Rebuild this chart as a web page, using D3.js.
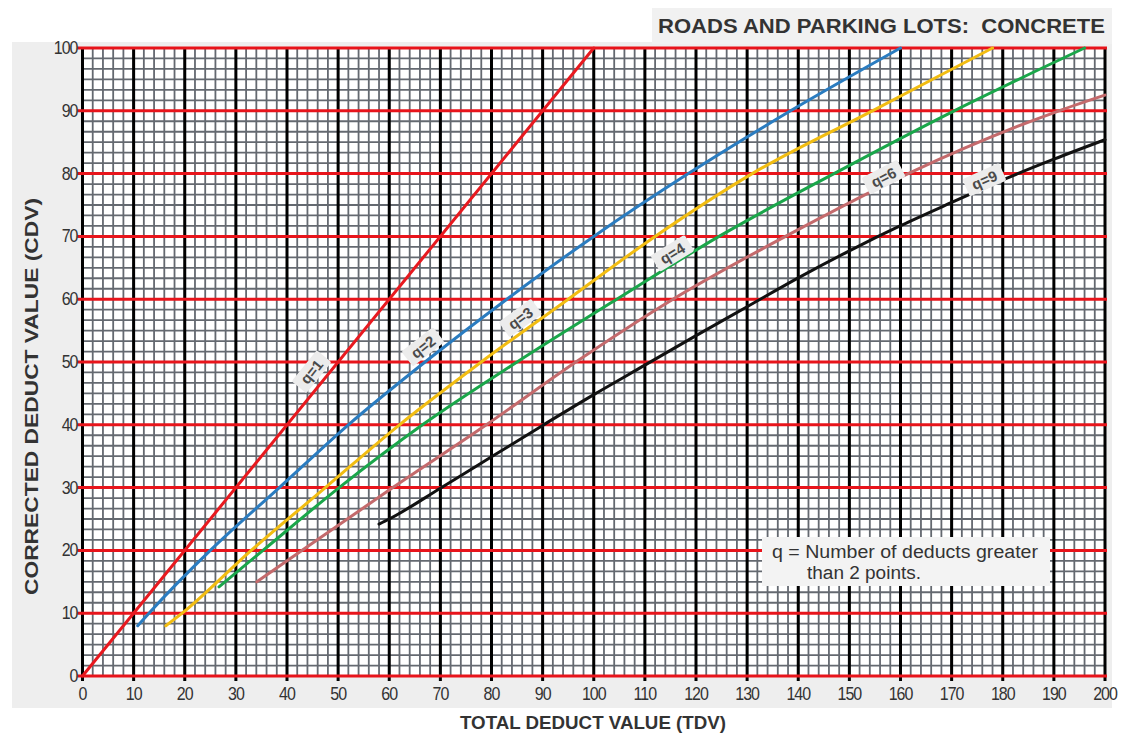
<!DOCTYPE html>
<html>
<head>
<meta charset="utf-8">
<script src="https://cdn.jsdelivr.net/npm/d3@7"></script>
<style>
  body { margin: 0; background: #ffffff; }
  svg { display: block; font-family: "Liberation Sans", Arial, sans-serif; }
</style>
</head>
<body>
<svg id="chart" width="1124" height="742"></svg>
<script>
// Axis ticks
const tdvTicks = d3.range(0, 201, 10);
const cdvTicks = d3.range(0, 101, 10);

// Corrected deduct value curves, [TDV, CDV] pairs, one per q
const qNames = ["q=1", "q=2", "q=3", "q=4", "q=6", "q=9"];
const q1 = [[0, 0], [100, 100]];
const q2 = [[10.8, 8], [13, 10], [25, 20], [38.5, 30], [52, 40], [67, 50], [83, 60], [100, 70],
            [118.5, 80], [138.5, 90], [160, 100]];
const q3 = [[16.3, 8], [19.5, 10], [33, 20], [47.5, 30], [62, 40], [78, 50], [95, 60], [112, 70],
            [131, 80], [154.5, 90], [178, 100]];
const q4 = [[26.7, 14.2], [35.3, 20], [50.2, 30], [66.5, 40], [85, 50], [104.5, 60], [124.5, 70],
            [147, 80], [170.5, 90], [196, 100]];
const q6 = [[34.1, 15], [42.9, 20], [60.7, 30], [79, 40], [96.5, 50], [115.5, 60], [137.5, 70],
            [161.5, 80], [191, 90], [200, 92.5]];
const q9 = [[58, 24.2], [60, 25], [70, 29.9], [80, 34.9], [90, 39.9], [100, 44.8], [110, 49.5],
            [120, 54.2], [130, 58.8], [140, 63.4], [150, 67.7], [160, 71.7], [170, 75.4],
            [180, 79], [190, 82.3], [200, 85.4]];
const curves = [q1, q2, q3, q4, q6, q9];
const curveColors = ["#e8191f", "#2a7cc0", "#f2bd12", "#1aa64a", "#c46a6c", "#111111"];
// where each curve carries its name: TDV along the curve, and gap above it (px)
const labelTdv = [47, 68.2, 87.1, 116.4, 157.4, 177];
const labelGap = [14.5, 13.3, 12.7, 10, 8, 7.5];

const noteLines = ["q = Number of deducts greater", "than 2 points."];

const x = d3.scaleLinear().domain([0, 200]).range([82.5, 1105]);
const y = d3.scaleLinear().domain([0, 100]).range([676, 48]);

const svg = d3.select("#chart");

// paper backdrop
svg.append("rect").attr("x", 12).attr("y", 42).attr("width", 1100).attr("height", 666)
  .attr("fill", "#eeeeee");
svg.append("rect").attr("x", 652).attr("y", 8).attr("width", 460).attr("height", 36)
  .attr("fill", "#f1f1f1");

svg.append("rect")
  .attr("x", x(0)).attr("y", y(100))
  .attr("width", x(200) - x(0)).attr("height", y(0) - y(100))
  .attr("fill", "#ffffff");

// fine graph-paper mesh
const mesh = svg.append("g").attr("stroke", "#4a4f58").attr("stroke-width", 1.8).attr("opacity", 0.85);
mesh.selectAll("line.mx").data(d3.range(0, 200.01, 2)).join("line")
  .attr("class", "mx")
  .attr("x1", d => x(d)).attr("x2", d => x(d))
  .attr("y1", y(100)).attr("y2", y(0));
mesh.selectAll("line.my").data(d3.range(0, 100.01, 10 / 6)).join("line")
  .attr("class", "my")
  .attr("x1", x(0)).attr("x2", x(200))
  .attr("y1", d => y(d)).attr("y2", d => y(d));

// major verticals (black) every 10 TDV
svg.append("g").selectAll("line").data(tdvTicks).join("line")
  .attr("x1", d => x(d)).attr("x2", d => x(d))
  .attr("y1", y(100)).attr("y2", y(0) + 5)
  .attr("stroke", "#000").attr("stroke-width", 3);

// major horizontals (red) every 10 CDV
svg.append("g").selectAll("line").data(cdvTicks).join("line")
  .attr("x1", x(0) - 5).attr("x2", x(200) + 2)
  .attr("y1", d => y(d)).attr("y2", d => y(d))
  .attr("stroke", "#e8141b").attr("stroke-width", 3);

// tick labels (tall, narrow digits)
const tickColor = "#333";
svg.append("g").selectAll("text").data(tdvTicks).join("text")
  .attr("transform", d => `translate(${x(d)},${y(0) + 24}) scale(1,1.15)`)
  .attr("text-anchor", "middle")
  .attr("font-size", 16).attr("fill", tickColor).attr("letter-spacing", -1)
  .text(d => d);
svg.append("g").selectAll("text").data(cdvTicks).join("text")
  .attr("transform", d => `translate(${x(0) - 5},${y(d) + 6}) scale(1,1.15)`)
  .attr("text-anchor", "end")
  .attr("font-size", 16).attr("fill", tickColor).attr("letter-spacing", -1)
  .text(d => d);

// curves
const line = d3.line().x(d => x(d[0])).y(d => y(d[1])).curve(d3.curveMonotoneX);
svg.append("g").selectAll("path").data(curves).join("path")
  .attr("d", line)
  .attr("fill", "none")
  .attr("stroke", (d, i) => curveColors[i])
  .attr("stroke-width", 3)
  .attr("stroke-linecap", "round");

// curve names, set just above each curve and turned to its slope
function cdvAt(pts, t) {
  for (let i = 1; i < pts.length; i++) {
    if (t <= pts[i][0]) {
      const a = pts[i - 1], b = pts[i];
      return a[1] + (b[1] - a[1]) * (t - a[0]) / (b[0] - a[0]);
    }
  }
  return pts[pts.length - 1][1];
}
const labels = svg.append("g");
curves.forEach((pts, i) => {
  const t = labelTdv[i];
  const px = x(t), py = y(cdvAt(pts, t));
  const dx = x(t + 2) - x(t - 2), dy = y(cdvAt(pts, t + 2)) - y(cdvAt(pts, t - 2));
  const ang = Math.atan2(dy, dx) * 180 / Math.PI;
  const g = labels.append("g")
    .attr("transform", `translate(${px},${py}) rotate(${ang}) translate(0,${-labelGap[i]})`);
  g.append("rect").attr("x", -20).attr("y", -9.5).attr("width", 40).attr("height", 19)
    .attr("rx", 2).attr("fill", "#ececec");
  g.append("text").attr("x", 0).attr("y", 5.5)
    .attr("text-anchor", "middle").attr("font-size", 15).attr("font-weight", "bold")
    .attr("fill", "#4a4a4a").text(qNames[i]);
});

// note box
const note = svg.append("g");
note.append("rect").attr("x", 762).attr("y", 537).attr("width", 288).attr("height", 49)
  .attr("fill", "#f3f3f3");
note.append("text").attr("x", 772).attr("y", 558).attr("font-size", 18).attr("fill", "#333")
  .attr("textLength", 266).attr("lengthAdjust", "spacingAndGlyphs")
  .text(noteLines[0]);
note.append("text").attr("x", 807).attr("y", 579).attr("font-size", 18).attr("fill", "#333")
  .attr("textLength", 114).attr("lengthAdjust", "spacingAndGlyphs")
  .text(noteLines[1]);

// titles
svg.append("text").attr("x", 658).attr("y", 33)
  .attr("font-size", 21).attr("font-weight", "bold").attr("fill", "#333")
  .attr("textLength", 447).attr("lengthAdjust", "spacingAndGlyphs")
  .attr("xml:space", "preserve")
  .text("ROADS AND PARKING LOTS:  CONCRETE");
svg.append("text").attr("x", 460).attr("y", 729)
  .attr("font-size", 18).attr("font-weight", "bold").attr("fill", "#333")
  .attr("textLength", 266).attr("lengthAdjust", "spacingAndGlyphs")
  .text("TOTAL DEDUCT VALUE (TDV)");
svg.append("text")
  .attr("transform", "translate(38,595) rotate(-90)")
  .attr("font-size", 18).attr("font-weight", "bold").attr("fill", "#333")
  .attr("textLength", 397).attr("lengthAdjust", "spacingAndGlyphs")
  .text("CORRECTED DEDUCT VALUE (CDV)");
</script>
</body>
</html>
